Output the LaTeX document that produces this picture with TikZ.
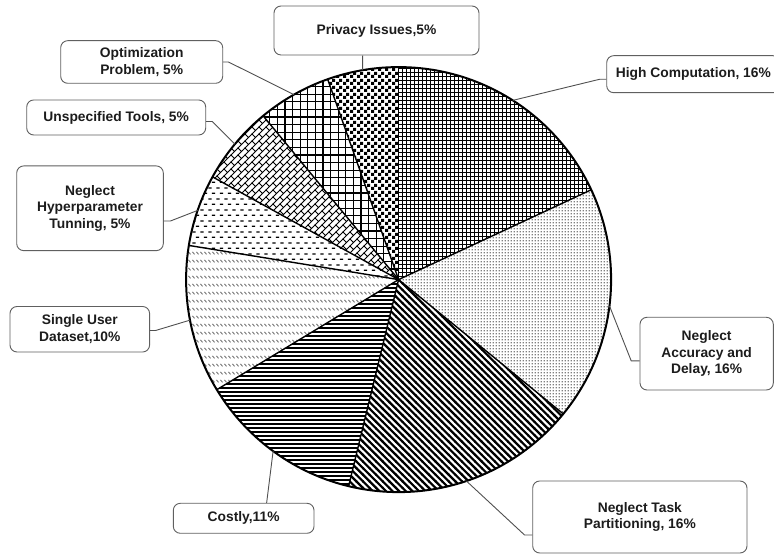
\documentclass[tikz,border=0pt]{standalone}
\usepackage{fontspec}
\setmainfont{Liberation Sans}
\usetikzlibrary{patterns}
\definecolor{boxgray}{HTML}{606060}
\definecolor{conngray}{HTML}{505050}
\definecolor{txtc}{HTML}{1C1C1C}
\definecolor{dotgray}{HTML}{808080}
\definecolor{dashgray}{HTML}{707070}

% High Computation: fine grid
\pgfdeclarepatternformonly{hcgrid}{\pgfqpoint{-1pt}{-1pt}}{\pgfqpoint{5pt}{5pt}}{\pgfqpoint{4pt}{4pt}}{%
  \pgfsetlinewidth{0.85pt}%
  \pgfpathmoveto{\pgfqpoint{-0.5pt}{2pt}}\pgfpathlineto{\pgfqpoint{4.5pt}{2pt}}%
  \pgfpathmoveto{\pgfqpoint{2pt}{-0.5pt}}\pgfpathlineto{\pgfqpoint{2pt}{4.5pt}}%
  \pgfusepath{stroke}}
% Optimization: coarse grid
\pgfdeclarepatternformonly{opgrid}{\pgfqpoint{-1pt}{-1pt}}{\pgfqpoint{8.6pt}{8.6pt}}{\pgfqpoint{7.6pt}{7.6pt}}{%
  \pgfsetlinewidth{1.2pt}%
  \pgfpathmoveto{\pgfqpoint{-0.5pt}{3.8pt}}\pgfpathlineto{\pgfqpoint{8.1pt}{3.8pt}}%
  \pgfpathmoveto{\pgfqpoint{3.8pt}{-0.5pt}}\pgfpathlineto{\pgfqpoint{3.8pt}{8.1pt}}%
  \pgfusepath{stroke}}
% Accuracy: dots
\pgfdeclarepatternformonly{acdots}{\pgfqpoint{0pt}{0pt}}{\pgfqpoint{3.3pt}{3.3pt}}{\pgfqpoint{3.3pt}{3.3pt}}{%
  \pgfpathrectangle{\pgfqpoint{0.9pt}{0.9pt}}{\pgfqpoint{1.5pt}{1.5pt}}%
  \pgfusepath{fill}}
% Task partitioning: thick north west lines
\pgfdeclarepatternformonly{tplines}{\pgfqpoint{-1pt}{-1pt}}{\pgfqpoint{7.6pt}{7.6pt}}{\pgfqpoint{6.6pt}{6.6pt}}{%
  \pgfsetlinewidth{2.2pt}%
  \pgfpathmoveto{\pgfqpoint{-0.6pt}{7.2pt}}\pgfpathlineto{\pgfqpoint{7.2pt}{-0.6pt}}%
  \pgfusepath{stroke}}
% Costly: horizontal lines
\pgfdeclarepatternformonly{colines}{\pgfqpoint{-1pt}{0pt}}{\pgfqpoint{5pt}{4pt}}{\pgfqpoint{4pt}{4pt}}{%
  \pgfsetlinewidth{1.05pt}%
  \pgfpathmoveto{\pgfqpoint{-1pt}{2pt}}\pgfpathlineto{\pgfqpoint{5pt}{2pt}}%
  \pgfusepath{stroke}}
% Single user: rows of short backslash dashes
\pgfdeclarepatternformonly{sudashes}{\pgfqpoint{0pt}{0pt}}{\pgfqpoint{4pt}{8pt}}{\pgfqpoint{4pt}{8pt}}{%
  \pgfsetlinewidth{1.0pt}%
  \pgfpathmoveto{\pgfqpoint{0.6pt}{6.8pt}}\pgfpathlineto{\pgfqpoint{3.2pt}{4.0pt}}%
  \pgfusepath{stroke}}
% Hyperparameter: dashed horizontal lines
\pgfdeclarepatternformonly{hpdash}{\pgfqpoint{0pt}{0pt}}{\pgfqpoint{8pt}{10.8pt}}{\pgfqpoint{8pt}{10.8pt}}{%
  \pgfsetlinewidth{1.3pt}%
  \pgfpathmoveto{\pgfqpoint{0.4pt}{8.1pt}}\pgfpathlineto{\pgfqpoint{4pt}{8.1pt}}%
  \pgfpathmoveto{\pgfqpoint{4.4pt}{2.7pt}}\pgfpathlineto{\pgfqpoint{8pt}{2.7pt}}%
  \pgfusepath{stroke}}
% Unspecified tools: diagonal bricks
\pgfdeclarepatternformonly{utbricks}{\pgfqpoint{-1pt}{-1pt}}{\pgfqpoint{8pt}{8pt}}{\pgfqpoint{7pt}{7pt}}{%
  \pgfsetlinewidth{1.0pt}%
  \pgfpathmoveto{\pgfqpoint{-0.5pt}{-0.5pt}}\pgfpathlineto{\pgfqpoint{7.5pt}{7.5pt}}%
  \pgfpathmoveto{\pgfqpoint{3.5pt}{3.5pt}}\pgfpathlineto{\pgfqpoint{0pt}{7pt}}%
  \pgfusepath{stroke}}
% Privacy: checkerboard
\pgfdeclarepatternformonly{prcheck}{\pgfqpoint{0pt}{0pt}}{\pgfqpoint{7pt}{7pt}}{\pgfqpoint{7pt}{7pt}}{%
  \pgfpathrectangle{\pgfqpoint{0pt}{0pt}}{\pgfqpoint{3.5pt}{3.5pt}}%
  \pgfpathrectangle{\pgfqpoint{3.5pt}{3.5pt}}{\pgfqpoint{3.5pt}{3.5pt}}%
  \pgfusepath{fill}}

\begin{document}
\begin{tikzpicture}[x=1pt,y=1pt,
  lbl/.style={draw=boxgray, line width=0.9pt, rounded corners=7pt, fill=white,
    align=center, font=\fontsize{13.8}{16.5}\selectfont\bfseries, text=txtc, inner sep=2pt},
  conn/.style={draw=conngray, line width=0.9pt},
  sep/.style={draw=black, line width=1.4pt},
  rim/.style={draw=black, line width=2pt}]
\clip (0,0) rectangle (774,554);
\fill[white] (0,0) rectangle (774,554);
\coordinate (C) at (398.6,274.4);
\def\R{212.5}
% slices
\fill[pattern=hcgrid] (C) -- ++(25:\R) arc[start angle=25,end angle=90,radius=\R] -- cycle;
\fill[pattern=acdots, pattern color=dotgray] (C) -- ++(-39.2:\R) arc[start angle=-39.2,end angle=25,radius=\R] -- cycle;
\fill[pattern=tplines] (C) -- ++(-103.6:\R) arc[start angle=-103.6,end angle=-39.2,radius=\R] -- cycle;
\fill[pattern=colines] (C) -- ++(211.2:\R) arc[start angle=211.2,end angle=256.4,radius=\R] -- cycle;
\fill[pattern=sudashes, pattern color=dashgray] (C) -- ++(170.75:\R) arc[start angle=170.75,end angle=211.2,radius=\R] -- cycle;
\fill[pattern=hpdash] (C) -- ++(151.1:\R) arc[start angle=151.1,end angle=170.75,radius=\R] -- cycle;
\fill[pattern=utbricks] (C) -- ++(129.6:\R) arc[start angle=129.6,end angle=151.1,radius=\R] -- cycle;
\fill[pattern=opgrid] (C) -- ++(109.5:\R) arc[start angle=109.5,end angle=129.6,radius=\R] -- cycle;
\fill[pattern=prcheck] (C) -- ++(90:\R) arc[start angle=90,end angle=109.5,radius=\R] -- cycle;
% separators
\foreach \a in {90,109.5,129.6,151.1,170.75,211.2,256.4,320.8,25}
  \draw[sep] (C) -- ++(\a:\R);
\draw[rim] (C) circle[radius=\R];
% connector end points on the rim
\path (C) ++(57.5:\R) coordinate (pHC);
\path (C) ++(-7.1:\R) coordinate (pAC);
\path (C) ++(-71.4:\R) coordinate (pTP);
\path (C) ++(-126.2:\R) coordinate (pCO);
\path (C) ++(191:\R) coordinate (pSU);
\path (C) ++(161:\R) coordinate (pHP);
\path (C) ++(140.4:\R) coordinate (pUT);
\path (C) ++(119.5:\R) coordinate (pOP);
\path (C) ++(99.75:\R) coordinate (pPR);
% label boxes
\node[lbl, minimum width=205, minimum height=49] (pr) at (376.5,523.5) {Privacy Issues,5\%};
\node[lbl, minimum width=162, minimum height=42.6] (op) at (141.7,492) {Optimization\\Problem, 5\%};
\node[lbl, minimum width=179, minimum height=35] (ut) at (116.2,436.5) {Unspecified Tools, 5\%};
\node[lbl, minimum width=146.6, minimum height=84.7] (hp) at (90,345.7) {Neglect\\Hyperparameter\\Tunning, 5\%};
\node[lbl, minimum width=139.6, minimum height=45.5] (su) at (79.8,224.75) {Single User\\Dataset,10\%};
\node[lbl, minimum width=140.7, minimum height=30] (co) at (243.65,35.7) {Costly,11\%};
\node[lbl, minimum width=214.3, minimum height=72] (tp) at (639.85,37) {Neglect Task\\Partitioning, 16\%};
\node[lbl, minimum width=133.3, minimum height=72.7] (ac) at (706.65,200.35) {Neglect\\Accuracy and\\Delay, 16\%};
\node[lbl, minimum width=173.3, minimum height=37] (hc) at (693.35,479.8) {High Computation, 16\%};
% connectors
\draw[conn] ([xshift=-13.8]pr.south) -- (pPR);
\draw[conn] (op.east) -- ++(5.3,0) -- (pOP);
\draw[conn] ([yshift=-4]ut.east) -- ++(6,0) -- (pUT);
\draw[conn] ([yshift=-12.7]hp.east) -- ++(6.7,0) -- (pHP);
\draw[conn] ([yshift=-1.3]su.east) -- ++(5.4,0) -- (pSU);
\draw[conn] ([xshift=23]co.north) -- (pCO);
\draw[conn] ([yshift=-18]tp.west) -- ++(-7.7,0) -- (pTP);
\draw[conn] ([yshift=-7.3]ac.west) -- ++(-8.3,0) -- (pAC);
\draw[conn] ([yshift=-5.1]hc.west) -- ++(-6.7,0) -- (pHC);
\end{tikzpicture}
\end{document}
